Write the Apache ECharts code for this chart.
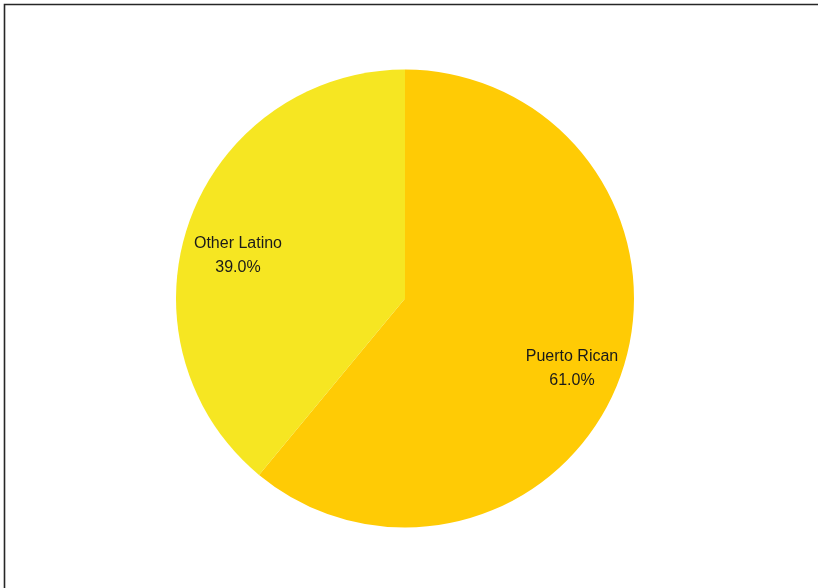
<!DOCTYPE html>
<html>
<head>
<meta charset="utf-8">
<script src="https://cdn.jsdelivr.net/npm/echarts@6/dist/echarts.min.js"></script>
<style>
html,body{margin:0;padding:0;background:#fff;}
#chart{width:818px;height:588px;}
</style>
</head>
<body>
<div id="chart"></div>
<script>
var categories = ['Puerto Rican', 'Other Latino'];
var values = [61.0, 39.0];
var colors = ['#FFCB05', '#F6E622'];

// spacer style key per label, to nudge each label down like in the reference
var labelSpacer = {'Puerto Rican': 'sA', 'Other Latino': 'sB'};

var chart = echarts.init(document.getElementById('chart'), null, {renderer: 'canvas'});
var mainData = categories.map(function (c, i) {
  return {name: c, value: values[i], itemStyle: {color: colors[i]}};
});
var labelData = categories.map(function (c, i) {
  return {name: c, value: values[i]};
});
var txt = {
  color: '#1a1a1a',
  fontFamily: 'Liberation Sans, Arial, sans-serif',
  fontSize: 16,
  lineHeight: 24
};
chart.setOption({
  backgroundColor: '#ffffff',
  animation: false,
  graphic: [{
    type: 'rect',
    shape: {x: 4.5, y: 4.5, width: 1000, height: 800},
    style: {fill: null, stroke: '#262626', lineWidth: 1.6},
    silent: true
  }],
  series: [{
    type: 'pie',
    center: [405, 298.5],
    radius: [0, 229],
    startAngle: 90,
    clockwise: true,
    silent: true,
    label: {show: false},
    labelLine: {show: false},
    itemStyle: {borderWidth: 0},
    emphasis: {disabled: true},
    data: mainData
  }, {
    type: 'pie',
    center: [405, 298.5],
    radius: [120, 229],
    startAngle: 90,
    clockwise: true,
    silent: true,
    itemStyle: {color: 'rgba(0,0,0,0)', borderWidth: 0},
    emphasis: {disabled: true},
    labelLine: {show: false},
    label: {
      show: true,
      position: 'inside',
      color: '#1a1a1a',
      fontFamily: 'Liberation Sans, Arial, sans-serif',
      fontSize: 16,
      lineHeight: 24,
      formatter: function (p) {
        var s = labelSpacer[p.name] || 'sA';
        return '{' + s + '| }\n{t|' + p.name + '}\n{t|' + p.value.toFixed(1) + '%}';
      },
      rich: {
        t: txt,
        sA: {fontSize: 4, lineHeight: 19},
        sB: {fontSize: 4, lineHeight: 34}
      }
    },
    data: labelData
  }]
});
</script>
</body>
</html>
